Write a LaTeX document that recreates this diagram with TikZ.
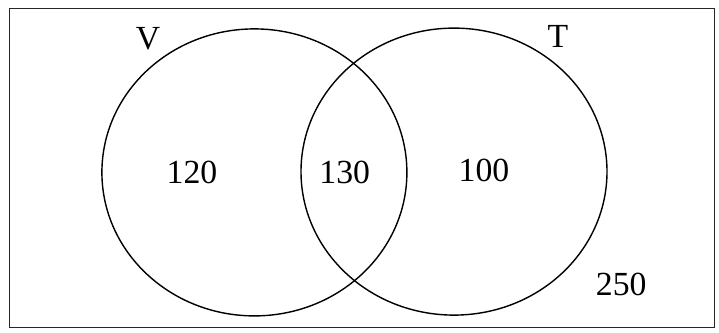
\documentclass[tikz,border=0pt]{standalone}
\usepackage{fontspec}
\setmainfont{Liberation Serif}
\usepackage{tikz}
\usetikzlibrary{
  shapes.geometric,
  positioning
}
\tikzset{
  vnset/.style={
    draw, ellipse, line width=1pt, inner sep=0pt
  },
  vnlabel/.style={font=\fontsize{24}{28}\selectfont, inner sep=1pt},
  vncount/.style={font=\fontsize{24}{28}\selectfont, inner sep=1pt},
  universe/.style={draw=black!85, line width=0.9pt}
}

\begin{document}
\begin{tikzpicture}
  \useasboundingbox (0,0) rectangle (17.975,8.3);
  \node[universe, minimum width=17.625cm, minimum height=7.975cm, anchor=south west] (U) at (0.225,0.1) {};
  \node[vnset, minimum width=7.625cm, minimum height=7.175cm] (V) at (6.36,3.99) {};
  \node[vnset, minimum width=7.65cm, minimum height=7.175cm] (T) at (11.35,4.01) {};
  \node[vnlabel] (labV) at (3.7,7.33) {V};
  \node[vnlabel] (labT) at (13.95,7.38) {T};
  \node[vncount] (onlyV) at (4.8,3.98) {120};
  \node[vncount] (both) at (8.62,3.98) {130};
  \node[vncount] (onlyT) at (12.1,4.03) {100};
  \node[vncount] (neither) at (15.53,1.2) {250};
\end{tikzpicture}
\end{document}
